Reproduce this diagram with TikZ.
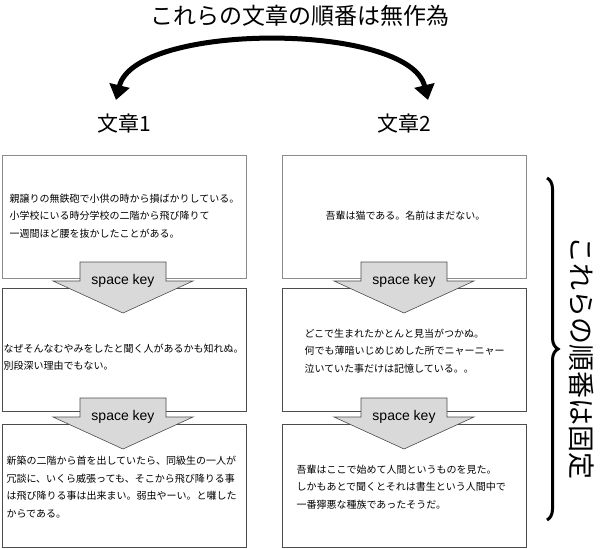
\documentclass[tikz,border=0pt]{standalone}
\usepackage{fontspec}
\setmainfont{Noto Sans CJK JP}
\newfontfamily\keyfont{Liberation Sans}
\usetikzlibrary{arrows.meta,decorations.pathreplacing}
\begin{document}
\begin{tikzpicture}[x=1pt,y=-1pt,
  txtbox/.style={draw=black!70,line width=0.8pt,minimum width=244pt,minimum height=123pt,anchor=north west,inner sep=0pt},
  bodytxt/.style={font=\fontsize{10}{17.5}\selectfont,align=left,anchor=west},
  keyarrow/.style={fill=black!15,draw=black!70,line width=0.6pt},
  keylbl/.style={font=\keyfont\fontsize{14}{14}\selectfont}]
\fill[white] (0,0) rectangle (600,549);
\useasboundingbox (0,0) rectangle (600,549);
\node (title) at (300,16) {\fontsize{23}{23}\selectfont これらの文章の順番は無作為};
\node (h1) at (124,124) {\fontsize{21}{21}\selectfont 文章1};
\node (h2) at (404,124) {\fontsize{21}{21}\selectfont 文章2};
\coordinate (ca) at (116,100);
\coordinate (cb) at (428,100);
\draw[line width=5pt,{Triangle[length=15pt,width=20pt]}-{Triangle[length=15pt,width=20pt]}] (ca) .. controls (135,22) and (409,22) .. (cb);
% boxes
\foreach \bx/\nm in {2/L,282/R}{
  \node[txtbox,draw=black!45] (\nm1) at (\bx,155) {};
  \node[txtbox] (\nm2) at (\bx,288) {};
  \node[txtbox] (\nm3) at (\bx,424) {};
}
\node[bodytxt] at (6,216) {親譲りの無鉄砲で小供の時から損ばかりしている。\\小学校にいる時分学校の二階から飛び降りて\\一週間ほど腰を抜かしたことがある。};
\node[bodytxt] at (0,357) {なぜそんなむやみをしたと聞く人があるかも知れぬ。\\別段深い理由でもない。};
\node[bodytxt] at (3,487) {新築の二階から首を出していたら、同級生の一人が\\冗談に、いくら威張っても、そこから飛び降りる事\\は飛び降りる事は出来まい。弱虫やーい。と囃した\\からである。};
\node[bodytxt] at (322,216) {吾輩は猫である。名前はまだない。};
\node[bodytxt] at (301,351) {どこで生まれたかとんと見当がつかぬ。\\何でも薄暗いじめじめした所でニャーニャー\\泣いていた事だけは記憶している。。};
\node[bodytxt] at (293,487) {吾輩はここで始めて人間というものを見た。\\しかもあとで聞くとそれは書生という人間中で\\一番獰悪な種族であったそうだ。};
% arrows
\foreach \cx in {123,404}{
  \foreach \ty in {262,398}{
    \draw[keyarrow] (\cx-43,\ty) -- (\cx+43,\ty) -- (\cx+43,\ty+19) -- (\cx+70,\ty+19) -- (\cx,\ty+51) -- (\cx-70,\ty+19) -- (\cx-43,\ty+19) -- cycle;
    \node[keylbl] at (\cx,\ty+19) {space key};
  }
}
% brace
\coordinate (bt) at (547,178);
\coordinate (bb) at (547,520);
\draw[line width=3pt,decorate,decoration={brace,amplitude=11pt}] (bt) -- (bb);
\node[rotate=-90] (fixed) at (582,358) {\fontsize{27}{27}\selectfont これらの順番は固定};
\end{tikzpicture}
\end{document}
